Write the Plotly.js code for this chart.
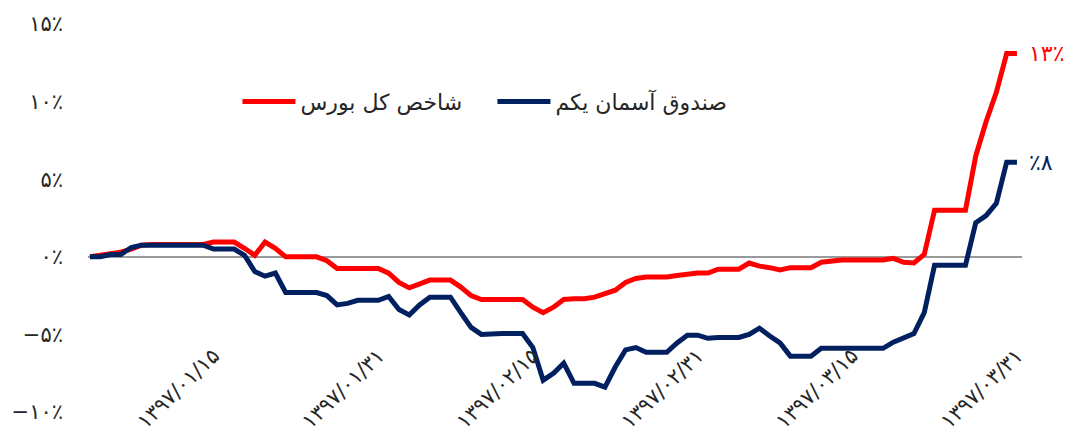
<!DOCTYPE html>
<html>
<head>
<meta charset="utf-8">
<script src="https://cdn.plot.ly/plotly-3.0.1.min.js"></script>
<style>
html,body{margin:0;padding:0;background:#fff;}
#chart{width:1073px;height:436px;}
</style>
</head>
<body>
<div id="chart"></div>
<script>
// ---- data ----
const seriesNames = ['شاخص کل بورس', 'صندوق آسمان یکم'];
const seriesColors = ['#FF0000', '#002060'];
const endLabels = ['۱۳٪', '٪۸'];

// calendar of chart days: 1397/01/03 .. 1397/03/31
const months = [1, 2, 3];
const monthFirstDay = [3, 1, 1];
const monthLastDay = [31, 31, 31];

// شاخص کل بورس (%)
const indexReturn = [
  0, 0.1, 0.15, 0.3, 0.5, 0.75, 0.8, 0.8, 0.8, 0.8,
  0.8, 0.8, 0.95, 0.95, 0.95, 0.55, 0.1, 0.95, 0.55, 0,
  0, 0, 0, -0.25, -0.75, -0.75, -0.75, -0.75, -0.75, -1.05,
  -1.65, -2.0, -1.75, -1.5, -1.5, -1.5, -1.95, -2.5, -2.75, -2.75,
  -2.75, -2.75, -2.75, -3.25, -3.6, -3.25, -2.75, -2.7, -2.7, -2.6,
  -2.4, -2.15, -1.65, -1.4, -1.3, -1.3, -1.3, -1.2, -1.1, -1.05,
  -1.05, -0.8, -0.8, -0.8, -0.4, -0.6, -0.7, -0.85, -0.7, -0.7,
  -0.7, -0.35, -0.25, -0.2, -0.2, -0.2, -0.2, -0.2, -0.1, -0.35,
  -0.4, 0.15, 3.0, 3.0, 3.0, 3.0, 6.5, 8.7, 10.6, 13.1,
  13.1
];

// صندوق آسمان یکم (%)
const fundReturn = [
  0, 0, 0.15, 0.15, 0.6, 0.75, 0.75, 0.75, 0.75, 0.75,
  0.75, 0.75, 0.5, 0.5, 0.5, 0.1, -0.95, -1.25, -1.05, -2.3,
  -2.3, -2.3, -2.3, -2.5, -3.1, -3.0, -2.8, -2.8, -2.8, -2.55,
  -3.4, -3.75, -3.1, -2.6, -2.6, -2.6, -3.6, -4.55, -5.0, -4.95,
  -4.95, -4.95, -4.95, -5.85, -7.95, -7.5, -6.85, -8.15, -8.15, -8.15,
  -8.4, -7.1, -6.0, -5.85, -6.15, -6.15, -6.15, -5.55, -5.05, -5.05,
  -5.25, -5.2, -5.2, -5.2, -5.0, -4.6, -5.1, -5.55, -6.4, -6.4,
  -6.4, -5.9, -5.9, -5.9, -5.9, -5.9, -5.9, -5.9, -5.5, -5.2,
  -4.95, -3.6, -0.55, -0.55, -0.55, -0.55, 2.2, 2.65, 3.45, 6.1,
  6.1
];

const xTickDates = ['1397/01/15', '1397/01/31', '1397/02/15', '1397/02/31', '1397/03/15', '1397/03/31'];
const yTickVals = [-10, -5, 0, 5, 10, 15];
const yTickText = ['−۱۰٪', '−۵٪', '۰٪', '۵٪', '۱۰٪', '۱۵٪'];

// ---- build ----
const faDigits = '۰۱۲۳۴۵۶۷۸۹';
const fa = s => s.replace(/[0-9]/g, d => faDigits[+d]);
const pad = n => (n < 10 ? '0' : '') + n;

const dates = [];
months.forEach((m, k) => {
  for (let d = monthFirstDay[k]; d <= monthLastDay[k]; d++) {
    dates.push(fa('1397/' + pad(m) + '/' + pad(d)));
  }
});
const ticks = xTickDates.map(fa);
const seriesValues = [indexReturn, fundReturn];

const FONT = 'DejaVu Sans, sans-serif';
const traces = seriesValues.map((vals, k) => ({
  type: 'scatter',
  mode: 'lines',
  name: seriesNames[k],
  x: dates,
  y: vals,
  line: {color: seriesColors[k], width: 5},
  hoverinfo: 'skip'
}));

const annotations = seriesValues.map((vals, k) => ({
  x: dates[dates.length - 1],
  y: vals[vals.length - 1],
  xref: 'x', yref: 'y',
  text: endLabels[k],
  showarrow: false,
  xanchor: 'left',
  yanchor: 'middle',
  xshift: 10,
  font: {family: FONT, size: 22, color: seriesColors[k]}
}));

const layout = {
  width: 1073,
  height: 436,
  margin: {l: 88, r: 51, t: 24, b: 24, autoexpand: false},
  paper_bgcolor: '#ffffff',
  plot_bgcolor: '#ffffff',
  font: {family: FONT, color: '#262626', size: 19},
  showlegend: true,
  legend: {
    orientation: 'h',
    x: 0.16, y: 0.80,
    xanchor: 'left', yanchor: 'middle',
    font: {family: FONT, size: 22, color: '#262626'},
    bgcolor: 'rgba(0,0,0,0)',
    itemwidth: 53,
    entrywidth: 187,
    entrywidthmode: 'pixels'
  },
  xaxis: {
    type: 'category',
    range: [-0.19, 90.49],
    tickvals: ticks,
    ticktext: ticks,
    tickangle: -44,
    showgrid: false,
    zeroline: false,
    showline: false,
    ticks: '',
    anchor: 'free',
    position: 0.19,
    tickfont: {family: FONT, size: 21, color: '#262626'},
    automargin: false
  },
  yaxis: {
    range: [-10, 15],
    tickvals: yTickVals,
    ticktext: yTickText,
    showgrid: false,
    zeroline: true,
    zerolinecolor: '#9a9a9a',
    zerolinewidth: 2,
    showline: false,
    ticks: '',
    ticklabelstandoff: 24,
    tickfont: {family: FONT, size: 21, color: '#262626'},
    automargin: false
  },
  annotations: annotations
};

Plotly.newPlot('chart', traces, layout, {staticPlot: true, displayModeBar: false});
</script>
</body>
</html>
